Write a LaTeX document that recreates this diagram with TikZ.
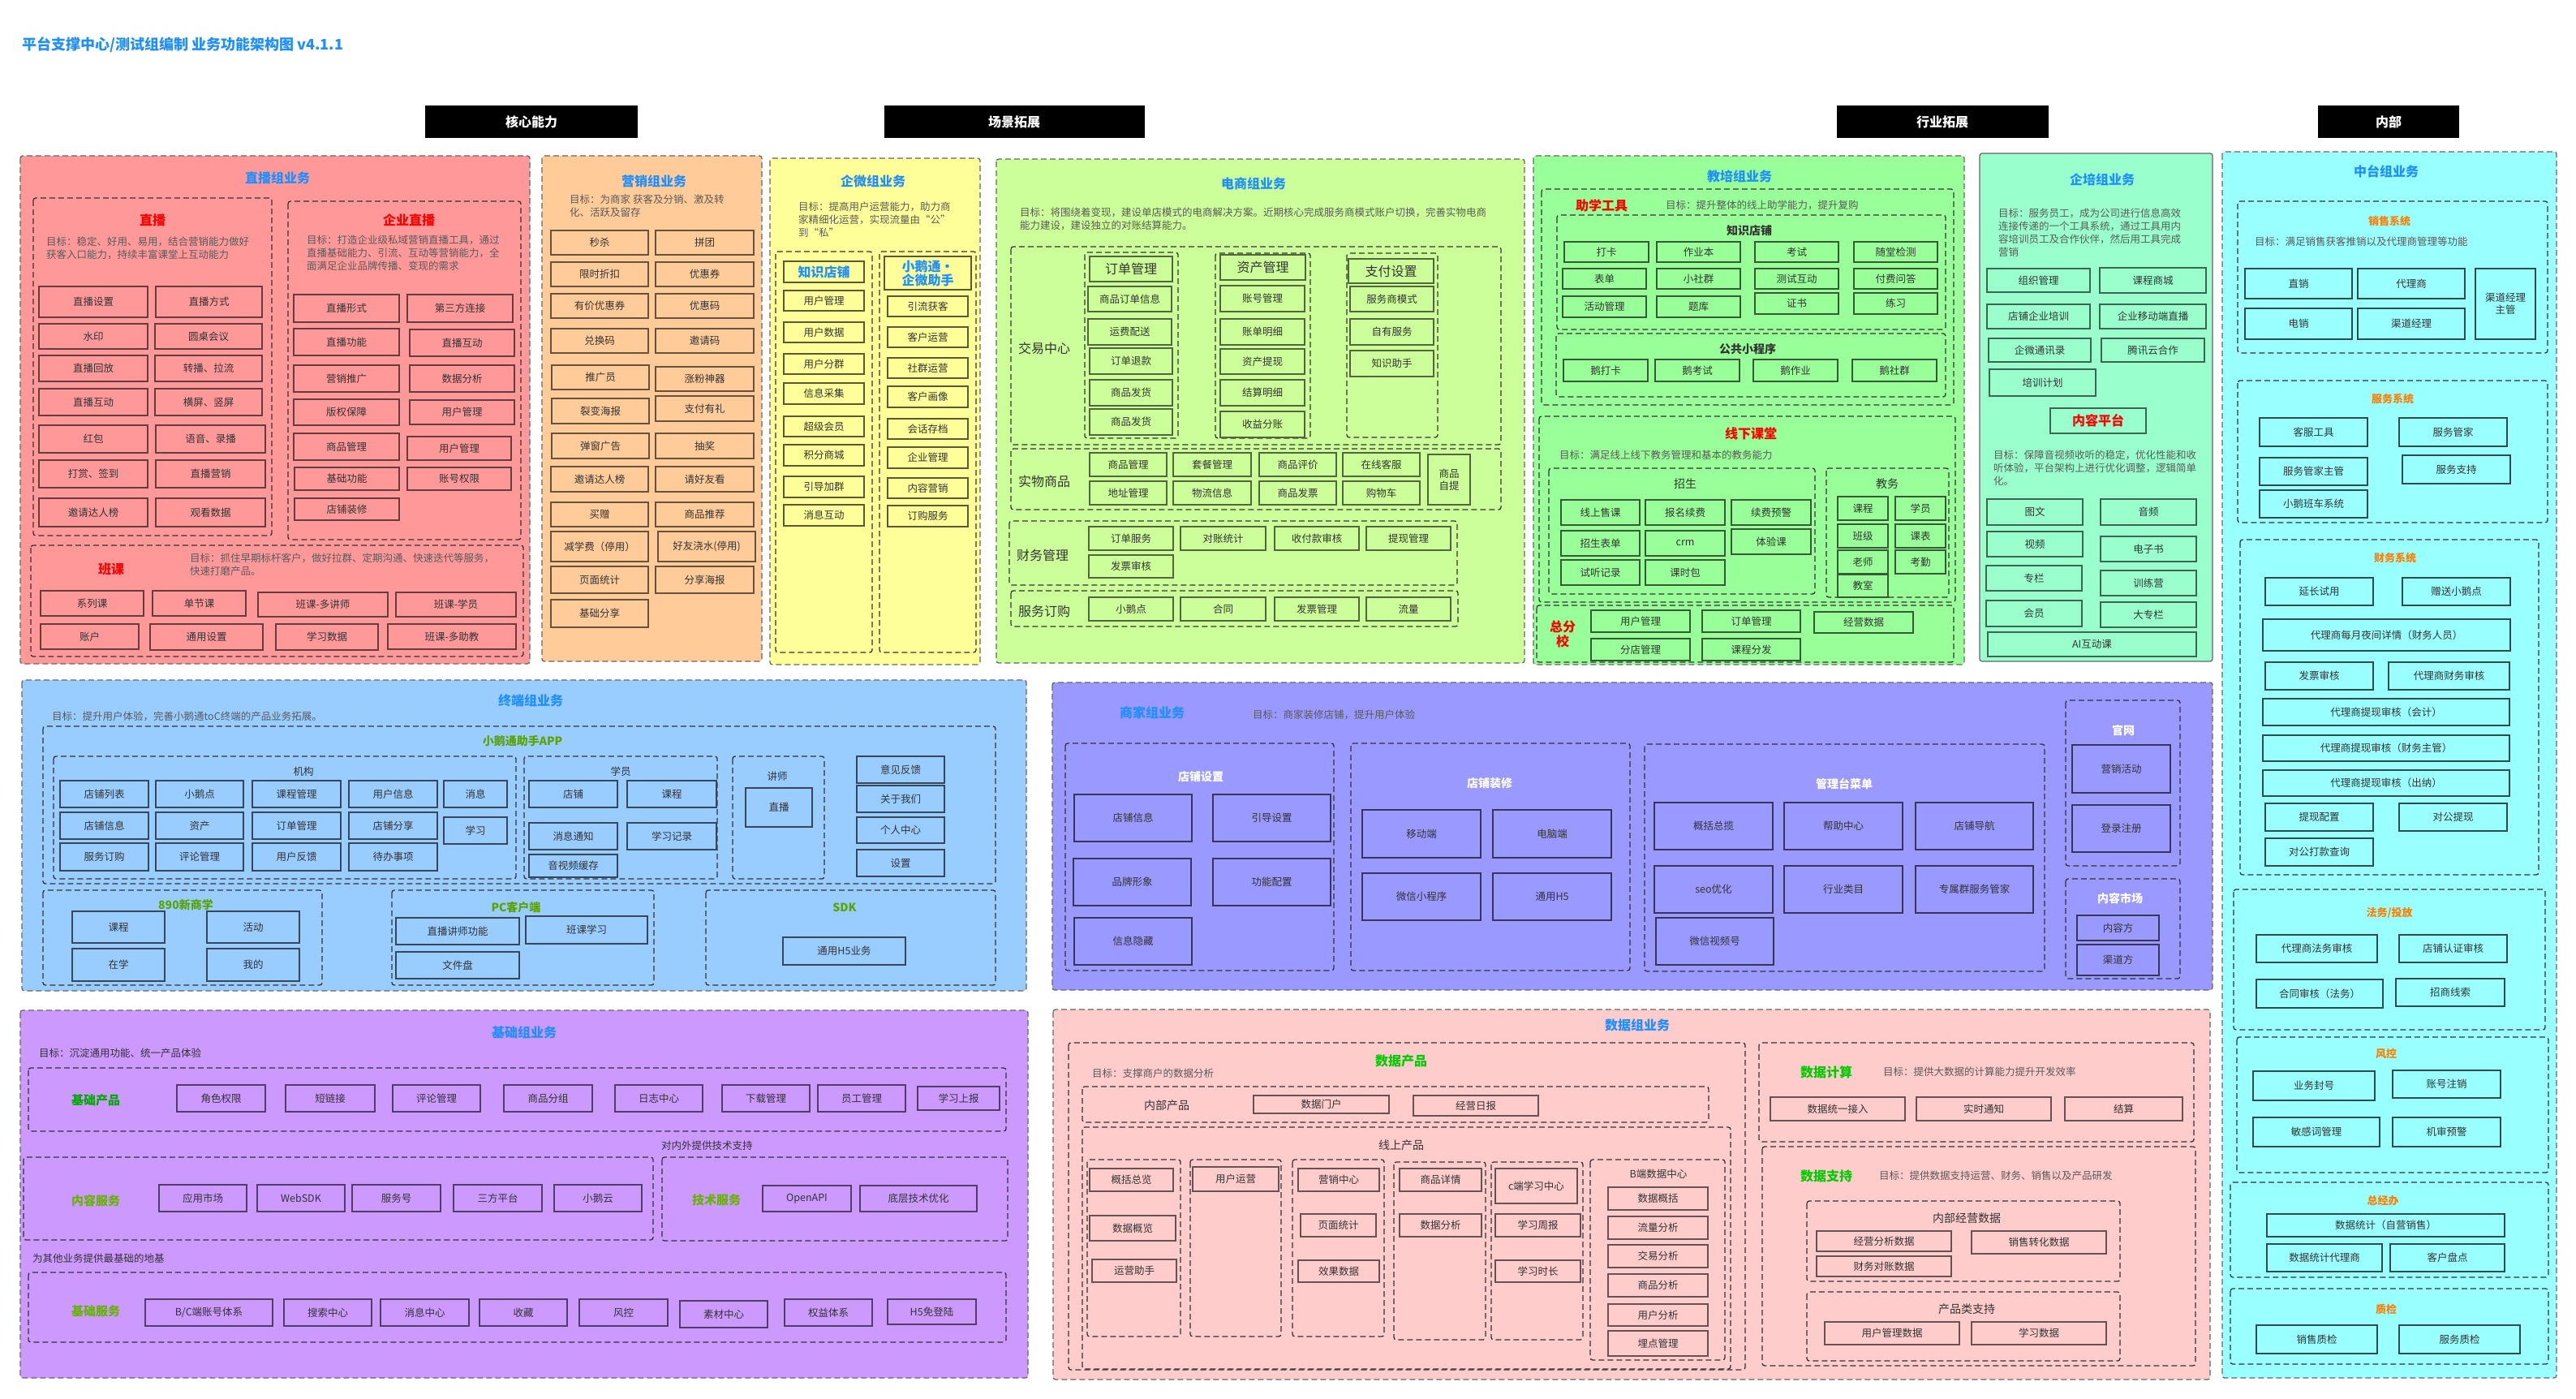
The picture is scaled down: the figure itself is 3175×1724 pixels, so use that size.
\documentclass[tikz,border=0pt]{standalone}
\usepackage{fontspec}
\setmainfont{Noto Sans CJK SC}
\usepackage{xcolor,tikz}

\definecolor{archLiveFill}{HTML}{FF9999}
\definecolor{archMktFill}{HTML}{FFCC99}
\definecolor{archWecomFill}{HTML}{FFFF99}
\definecolor{archShopFill}{HTML}{CCFF99}
\definecolor{archEduFill}{HTML}{99FF99}
\definecolor{archCorpFill}{HTML}{99FFCC}
\definecolor{archMidFill}{HTML}{99FFFF}
\definecolor{archAppFill}{HTML}{99CCFF}
\definecolor{archMerchFill}{HTML}{9999FF}
\definecolor{archBaseFill}{HTML}{CC99FF}
\definecolor{archDataFill}{HTML}{FFCCCC}
\definecolor{archTitleBlue}{HTML}{1F8FFF}
\definecolor{archRed}{HTML}{FF0000}
\definecolor{archOrange}{HTML}{FF8000}
\definecolor{archOlive}{HTML}{5AA300}
\definecolor{archGreen}{HTML}{00A800}
\definecolor{archLime}{HTML}{66B300}
\definecolor{archBright}{HTML}{00CC00}
\definecolor{archText}{HTML}{333333}
\definecolor{archGoal}{HTML}{5A5A5A}
\definecolor{archSecLine}{HTML}{666666}
\definecolor{archGroupLine}{HTML}{333333}
\colorlet{archLiveLine}{black!60!archLiveFill}
\colorlet{archMktLine}{black!60!archMktFill}
\colorlet{archWecomLine}{black!65!archWecomFill}
\colorlet{archShopLine}{black!60!archShopFill}
\colorlet{archEduLine}{black!65!archEduFill}
\colorlet{archCorpLine}{black!60!archCorpFill}
\colorlet{archMidLine}{black!70!archMidFill}
\colorlet{archAppLine}{black!65!archAppFill}
\colorlet{archMerchLine}{black!65!archMerchFill}
\colorlet{archBaseLine}{black!60!archBaseFill}
\colorlet{archDataLine}{black!60!archDataFill}

\tikzset{
  sec frame/.style={
    draw=archSecLine, line width=1.3pt,
    dash pattern=on 7pt off 4pt, rounded corners=3pt,
  },
  grp frame/.style={
    draw=archGroupLine, line width=1.3pt,
    dash pattern=on 7pt off 4pt, rounded corners=3pt,
  },
  fn box/.style={
    rectangle, draw=archGroupLine, line width=1.3pt,
    inner sep=1pt, align=center,
    font=\fontsize{12.5}{15}\selectfont, text=archText,
  },
  sec title/.style={font=\fontsize{16}{19}\selectfont\bfseries, text=archTitleBlue},
  sub title/.style={font=\fontsize{16}{18}\selectfont\bfseries, text=archRed, align=center},
  goal text/.style={
    font=\fontsize{12.5}{16}\selectfont, text=archGoal,
    align=left, anchor=north west, inner sep=0pt,
  },
  goal line/.style={goal text, anchor=west},
  grp label/.style={font=\fontsize{14}{17}\selectfont, text=archText},
  big label/.style={font=\fontsize{16}{19}\selectfont, text=archText},
  head box/.style={font=\fontsize{16}{19}\selectfont},
  wecom head/.style={font=\fontsize{16}{17}\selectfont\bfseries, text=archTitleBlue},
  mid label/.style={font=\fontsize{13}{16}\selectfont\bfseries, text=archOrange},
  app label/.style={font=\fontsize{14}{17}\selectfont\bfseries, text=archOlive},
  head bar/.style={
    fill=black, text=white, inner sep=0pt,
    font=\fontsize{16}{19}\selectfont\bfseries,
  },
}

% box from its two corners (pixel grid, y downwards)
\newcommand{\fnbox}[7][]{%
  \pgfmathsetmacro{\fbX}{(#3+#5)/2}%
  \pgfmathsetmacro{\fbY}{(#4+#6)/2}%
  \pgfmathsetmacro{\fbW}{#5-#3}%
  \pgfmathsetmacro{\fbH}{#6-#4}%
  \node[fn box, minimum width=\fbW pt, minimum height=\fbH pt, #1] (#2) at (\fbX,\fbY) {#7};%
}

\begin{document}
\begin{tikzpicture}[x=1pt, y=-1pt]

\useasboundingbox (0,0) rectangle (3175,1724);
\fill[white] (0,0) rectangle (3175,1724);

% --- TITLE + COLUMN HEADERS ---
\node[anchor=west, font=\fontsize{18}{21}\selectfont\bfseries, text=archTitleBlue] (mainTitle)
  at (24,55) {平台支撑中心/测试组编制 业务功能架构图 v4.1.1};
\node[head bar, minimum width=262pt, minimum height=40pt] (hdCore) at (655,150) {核心能力};
\node[head bar, minimum width=321pt, minimum height=40pt] (hdScene) at (1250,150) {场景拓展};
\node[head bar, minimum width=261pt, minimum height=40pt] (hdTrade) at (2394,150) {行业拓展};
\node[head bar, minimum width=174pt, minimum height=40pt] (hdInner) at (2944,150) {内部};

% --- 直播组业务 ---
\begin{scope}[fn box/.append style={draw=archLiveLine}]
\draw[sec frame, fill=archLiveFill] (25,192) rectangle (653,818);
\node[sec title] (liveT) at (342,219) {直播组业务};
\draw[grp frame] (41,244) rectangle (335,660);
\node[sub title] (liveA) at (188,271) {直播};
\node[goal text] (liveAG) at (57,292) {目标：稳定、好用、易用，结合营销能力做好\\获客入口能力，持续丰富课堂上互动能力};
\fnbox{live1}{48}{353}{182}{391}{直播设置}
\fnbox{live2}{192}{353}{323}{391}{直播方式}
\fnbox{live3}{48}{399}{182}{430}{水印}
\fnbox{live4}{191}{399}{323}{430}{圆桌会议}
\fnbox{live5}{48}{438}{182}{470}{直播回放}
\fnbox{live6}{191}{438}{323}{470}{转播、拉流}
\fnbox{live7}{48}{479}{182}{512}{直播互动}
\fnbox{live8}{191}{479}{323}{512}{横屏、竖屏}
\fnbox{live9}{48}{524}{182}{558}{红包}
\fnbox{live10}{192}{524}{327}{558}{语音、录播}
\fnbox{live11}{48}{567}{182}{601}{打赏、签到}
\fnbox{live12}{192}{567}{327}{601}{直播营销}
\fnbox{live13}{48}{614}{182}{649}{邀请达人榜}
\fnbox{live14}{192}{614}{327}{649}{观看数据}
\draw[grp frame] (355,248) rectangle (642,665);
\node[sub title] (liveB) at (504,271) {企业直播};
\node[goal text] (liveBG) at (378,290) {目标：打造企业级私域营销直播工具，通过\\直播基础能力、引流、互动等营销能力，全\\面满足企业品牌传播、变现的需求};
\fnbox{ent1}{362}{363}{492}{397}{直播形式}
\fnbox{ent2}{502}{363}{632}{397}{第三方连接}
\fnbox{ent3}{362}{405}{492}{438}{直播功能}
\fnbox{ent4}{505}{406}{634}{439}{直播互动}
\fnbox{ent5}{362}{450}{492}{483}{营销推广}
\fnbox{ent6}{505}{450}{634}{483}{数据分析}
\fnbox{ent7}{362}{492}{492}{524}{版权保障}
\fnbox{ent8}{505}{493}{634}{523}{用户管理}
\fnbox{ent9}{362}{534}{492}{567}{商品管理}
\fnbox{ent10}{502}{538}{630}{567}{用户管理}
\fnbox{ent11}{363}{576}{492}{604}{基础功能}
\fnbox{ent12}{502}{576}{630}{604}{账号权限}
\fnbox{ent13}{363}{614}{492}{641}{店铺装修}
\draw[grp frame] (38,672) rectangle (645,809);
\node[sub title] (liveC) at (137,701) {班课};
\node[goal text] (liveCG) at (234,682) {目标：抓住早期标杆客户，做好拉群、定期沟通、快速迭代等服务，\\快速打磨产品。};
\fnbox{cls1}{50}{728}{177}{759}{系列课}
\fnbox{cls2}{188}{728}{303}{759}{单节课}
\fnbox{cls3}{318}{730}{478}{760}{班课-多讲师}
\fnbox{cls4}{488}{730}{636}{760}{班课-学员}
\fnbox{cls5}{50}{769}{171}{800}{账户}
\fnbox{cls6}{185}{769}{324}{801}{通用设置}
\fnbox{cls7}{340}{769}{466}{801}{学习数据}
\fnbox{cls8}{478}{769}{636}{800}{班课-多助教}
\end{scope}

% --- 营销组业务 ---
\begin{scope}[fn box/.append style={draw=archMktLine}]
\draw[sec frame, fill=archMktFill] (668,192) rectangle (939,815);
\node[sec title] (mktT) at (806,223) {营销组业务};
\node[goal text] (mktG) at (702,240) {目标：为商家 获客及分销、激及转\\化、活跃及留存};
\fnbox{mkt1}{679}{284}{799}{314}{秒杀}
\fnbox{mkt2}{808}{284}{929}{314}{拼团}
\fnbox{mkt3}{679}{323}{799}{353}{限时折扣}
\fnbox{mkt4}{808}{323}{929}{353}{优惠券}
\fnbox{mkt5}{679}{362}{799}{392}{有价优惠券}
\fnbox{mkt6}{808}{362}{929}{392}{优惠码}
\fnbox{mkt7}{679}{405}{799}{435}{兑换码}
\fnbox{mkt8}{808}{405}{929}{435}{邀请码}
\fnbox{mkt9}{680}{450}{800}{480}{推广员}
\fnbox{mkt10}{808}{452}{929}{482}{涨粉神器}
\fnbox{mkt11}{680}{491}{800}{522}{裂变海报}
\fnbox{mkt12}{808}{488}{929}{519}{支付有礼}
\fnbox{mkt13}{680}{534}{800}{565}{弹窗广告}
\fnbox{mkt14}{808}{534}{929}{565}{抽奖}
\fnbox{mkt15}{679}{575}{799}{606}{邀请达人榜}
\fnbox{mkt16}{808}{575}{929}{606}{请好友看}
\fnbox{mkt17}{679}{619}{799}{649}{买赠}
\fnbox{mkt18}{808}{619}{929}{649}{商品推荐}
\fnbox{mkt19}{679}{655}{799}{692}{减学费（停用）}
\fnbox{mkt20}{811}{655}{931}{692}{好友浇水(停用)}
\fnbox{mkt21}{679}{698}{799}{731}{页面统计}
\fnbox{mkt22}{808}{698}{929}{731}{分享海报}
\fnbox{mkt23}{679}{739}{799}{773}{基础分享}
\end{scope}

% --- 企微组业务 ---
\begin{scope}[fn box/.append style={draw=archWecomLine}]
\draw[sec frame, fill=archWecomFill] (949,195) rectangle (1208,819);
\node[sec title] (wcT) at (1076,223) {企微组业务};
\node[goal text] (wcG) at (984,249) {目标：提高用户运营能力，助力商\\家精细化运营，实现流量由“公”\\到“私”};
\draw[grp frame] (956,310) rectangle (1075,804);
\fnbox[wecom head]{wcA0}{966}{322}{1065}{348}{知识店铺}
\fnbox{wcA1}{966}{358}{1065}{383}{用户管理}
\fnbox{wcA2}{966}{397}{1065}{422}{用户数据}
\fnbox{wcA3}{966}{436}{1065}{461}{用户分群}
\fnbox{wcA4}{966}{472}{1065}{498}{信息采集}
\fnbox{wcA5}{966}{513}{1065}{538}{超级会员}
\fnbox{wcA6}{966}{548}{1065}{574}{积分商城}
\fnbox{wcA7}{966}{587}{1065}{613}{引导加群}
\fnbox{wcA8}{966}{622}{1065}{648}{消息互动}
\draw[grp frame] (1084,310) rectangle (1203,804);
\fnbox[wecom head]{wcB0}{1090}{316}{1197}{357}{小鹅通•\\企微助手}
\fnbox{wcB1}{1094}{365}{1193}{390}{引流获客}
\fnbox{wcB2}{1094}{403}{1193}{428}{客户运营}
\fnbox{wcB3}{1094}{441}{1193}{466}{社群运营}
\fnbox{wcB4}{1094}{476}{1193}{502}{客户画像}
\fnbox{wcB5}{1094}{516}{1193}{541}{会话存档}
\fnbox{wcB6}{1094}{551}{1193}{577}{企业管理}
\fnbox{wcB7}{1094}{589}{1193}{614}{内容营销}
\fnbox{wcB8}{1094}{623}{1193}{649}{订购服务}
\end{scope}

% --- 电商组业务 ---
\begin{scope}[fn box/.append style={draw=archShopLine}]
\draw[sec frame, fill=archShopFill] (1228,196) rectangle (1879,817);
\node[sec title] (shopT) at (1545,226) {电商组业务};
\node[goal text] (shopG) at (1257,256) {目标：将围绕着变现，建设单店模式的电商解决方案。近期核心完成服务商模式账户切换，完善实物电商\\能力建设，建设独立的对账结算能力。};
\draw[grp frame] (1246,304) rectangle (1850,548);
\node[big label] (shopTrade) at (1287,429) {交易中心};
\draw[grp frame] (1337,311) rectangle (1452,540);
\fnbox[head box]{ord0}{1343}{316}{1445}{347}{订单管理}
\fnbox{ord1}{1341}{353}{1444}{384}{商品订单信息}
\fnbox{ord2}{1341}{393}{1444}{425}{运费配送}
\fnbox{ord3}{1343}{429}{1445}{461}{订单退款}
\fnbox{ord4}{1343}{468}{1445}{500}{商品发货}
\fnbox{ord5}{1343}{504}{1445}{536}{商品发货}
\draw[grp frame] (1498,312) rectangle (1615,540);
\fnbox[head box]{ast0}{1504}{314}{1609}{345}{资产管理}
\fnbox{ast1}{1504}{352}{1608}{384}{账号管理}
\fnbox{ast2}{1504}{393}{1608}{425}{账单明细}
\fnbox{ast3}{1504}{430}{1608}{461}{资产提现}
\fnbox{ast4}{1504}{468}{1608}{500}{结算明细}
\fnbox{ast5}{1504}{507}{1608}{539}{收益分账}
\draw[grp frame] (1660,312) rectangle (1772,539);
\fnbox[head box]{pay0}{1662}{319}{1767}{349}{支付设置}
\fnbox{pay1}{1664}{353}{1767}{384}{服务商模式}
\fnbox{pay2}{1664}{393}{1767}{425}{自有服务}
\fnbox{pay3}{1664}{432}{1767}{464}{知识助手}
\draw[grp frame] (1246,553) rectangle (1850,628);
\node[big label] (shopGoods) at (1287,593) {实物商品};
\fnbox{phy1}{1343}{558}{1438}{587}{商品管理}
\fnbox{phy2}{1446}{558}{1542}{587}{套餐管理}
\fnbox{phy3}{1552}{558}{1647}{587}{商品评价}
\fnbox{phy4}{1655}{558}{1750}{587}{在线客服}
\fnbox{phy5}{1343}{593}{1438}{622}{地址管理}
\fnbox{phy6}{1446}{593}{1542}{622}{物流信息}
\fnbox{phy7}{1552}{593}{1647}{622}{商品发票}
\fnbox{phy8}{1655}{593}{1750}{622}{购物车}
\fnbox{phy9}{1760}{560}{1812}{622}{商品\\自提}
\draw[grp frame] (1244,642) rectangle (1796,721);
\node[big label] (shopFin) at (1285,684) {财务管理};
\fnbox{fin1}{1342}{649}{1446}{678}{订单服务}
\fnbox{fin2}{1455}{649}{1560}{678}{对账统计}
\fnbox{fin3}{1571}{649}{1675}{678}{收付款审核}
\fnbox{fin4}{1684}{649}{1788}{678}{提现管理}
\fnbox{fin5}{1342}{684}{1446}{712}{发票审核}
\draw[grp frame] (1246,728) rectangle (1797,772);
\node[big label] (shopSvc) at (1287,753) {服务订购};
\fnbox{svc1}{1342}{736}{1446}{765}{小鹅点}
\fnbox{svc2}{1455}{736}{1560}{765}{合同}
\fnbox{svc3}{1571}{736}{1675}{765}{发票管理}
\fnbox{svc4}{1684}{736}{1788}{765}{流量}
\end{scope}

% --- 教培组业务 ---
\begin{scope}[fn box/.append style={draw=archEduLine}]
\draw[sec frame, fill=archEduFill] (1890,192) rectangle (2421,819);
\node[sec title] (eduT) at (2144,217) {教培组业务};
\draw[grp frame] (1900,233) rectangle (2408,499);
\node[sub title] (eduA) at (1974,253) {助学工具};
\node[goal line] (eduAG) at (2053,253) {目标：提升整体的线上助学能力，提升复购};
\draw[grp frame] (1919,265) rectangle (2398,406);
\node[grp label, font=\fontsize{14}{17}\selectfont\bfseries] (eduShop) at (2156,284) {知识店铺};
\fnbox{edu1}{1928}{298}{2032}{323}{打卡}
\fnbox{edu2}{2042}{298}{2145}{323}{作业本}
\fnbox{edu3}{2163}{298}{2266}{323}{考试}
\fnbox{edu4}{2285}{298}{2388}{323}{随堂检测}
\fnbox{edu5}{1926}{331}{2029}{356}{表单}
\fnbox{edu6}{2042}{331}{2145}{356}{小社群}
\fnbox{edu7}{2163}{331}{2266}{356}{测试互动}
\fnbox{edu8}{2285}{331}{2388}{356}{付费问答}
\fnbox{edu9}{1926}{365}{2029}{391}{活动管理}
\fnbox{edu10}{2042}{365}{2145}{391}{题库}
\fnbox{edu11}{2163}{361}{2266}{387}{证书}
\fnbox{edu12}{2285}{361}{2388}{387}{练习}
\draw[grp frame] (1918,411) rectangle (2398,489);
\node[grp label, font=\fontsize{14}{17}\selectfont\bfseries] (eduMini) at (2154,430) {公共小程序};
\fnbox{edu13}{1927}{443}{2031}{470}{鹅打卡}
\fnbox{edu14}{2040}{443}{2144}{470}{鹅考试}
\fnbox{edu15}{2161}{443}{2265}{470}{鹅作业}
\fnbox{edu16}{2283}{443}{2387}{470}{鹅社群}
\draw[grp frame] (1897,513) rectangle (2410,742);
\node[sub title] (eduB) at (2158,534) {线下课堂};
\node[goal line] (eduBG) at (1922,561) {目标：满足线上线下教务管理和基本的教务能力};
\draw[grp frame] (1909,577) rectangle (2237,732);
\node[grp label] (eduRec) at (2077,596) {招生};
\fnbox{off1}{1924}{616}{2021}{647}{线上售课}
\fnbox{off2}{2028}{616}{2126}{647}{报名续费}
\fnbox{off3}{2134}{616}{2232}{647}{续费预警}
\fnbox{off4}{1924}{654}{2021}{685}{招生表单}
\fnbox{off5}{2028}{654}{2126}{685}{crm}
\fnbox{off6}{2134}{652}{2232}{683}{体验课}
\fnbox{off7}{1924}{690}{2021}{721}{试听记录}
\fnbox{off8}{2028}{690}{2126}{721}{课时包}
\draw[grp frame] (2251,577) rectangle (2402,736);
\node[grp label] (eduAff) at (2326,596) {教务};
\fnbox{aff1}{2265}{612}{2327}{641}{课程}
\fnbox{aff2}{2336}{612}{2398}{641}{学员}
\fnbox{aff3}{2265}{646}{2327}{675}{班级}
\fnbox{aff4}{2336}{646}{2398}{675}{课表}
\fnbox{aff5}{2265}{678}{2327}{707}{老师}
\fnbox{aff6}{2336}{678}{2398}{707}{考勤}
\fnbox{aff7}{2265}{708}{2327}{736}{教室}
\draw[grp frame] (1894,746) rectangle (2408,816);
\node[sub title] (eduC) at (1926,781) {总分\\校};
\fnbox{br1}{1961}{752}{2083}{779}{用户管理}
\fnbox{br2}{2098}{752}{2219}{779}{订单管理}
\fnbox{br3}{2236}{754}{2358}{780}{经营数据}
\fnbox{br4}{1961}{787}{2083}{814}{分店管理}
\fnbox{br5}{2098}{787}{2219}{814}{课程分发}
\end{scope}

% --- 企培组业务 ---
\begin{scope}[fn box/.append style={draw=archCorpLine}]
\draw[draw=archSecLine, line width=1.3pt, rounded corners=3pt, fill=archCorpFill] (2440,189) rectangle (2727,815);
\node[sec title] (cpT) at (2591,221) {企培组业务};
\node[goal text] (cpG) at (2463,257) {目标：服务员工，成为公司进行信息高效\\连接传递的一个工具系统，通过工具用内\\容培训员工及合作伙伴，然后用工具完成\\营销};
\fnbox{cp1}{2449}{331}{2576}{360}{组织管理}
\fnbox{cp2}{2588}{330}{2719}{361}{课程商城}
\fnbox{cp3}{2449}{375}{2576}{405}{店铺企业培训}
\fnbox{cp4}{2588}{375}{2719}{405}{企业移动端直播}
\fnbox{cp5}{2451}{417}{2577}{446}{企微通讯录}
\fnbox{cp6}{2590}{417}{2717}{446}{腾讯云合作}
\fnbox{cp7}{2452}{455}{2583}{488}{培训计划}
\fnbox[font=\fontsize{16}{19}\selectfont\bfseries, text=archRed]{cp8}{2527}{503}{2645}{534}{内容平台}
\node[goal text] (cpG2) at (2457,555) {目标：保障音视频收听的稳定，优化性能和收\\听体验，平台架构上进行优化调整，逻辑简单\\化。};
\fnbox{cp9}{2449}{615}{2567}{647}{图文}
\fnbox{cp10}{2589}{615}{2707}{647}{音频}
\fnbox{cp11}{2449}{655}{2567}{686}{视频}
\fnbox{cp12}{2589}{661}{2707}{692}{电子书}
\fnbox{cp13}{2448}{697}{2566}{728}{专栏}
\fnbox{cp14}{2589}{703}{2707}{734}{训练营}
\fnbox{cp15}{2448}{740}{2566}{772}{会员}
\fnbox{cp16}{2589}{742}{2707}{773}{大专栏}
\fnbox{cp17}{2450}{779}{2707}{809}{AI互动课}
\end{scope}

% --- 中台组业务 ---
\begin{scope}[fn box/.append style={draw=archMidLine}]
\draw[sec frame, fill=archMidFill] (2739,187) rectangle (3151,1698);
\node[sec title] (midT) at (2941,211) {中台组业务};
\draw[grp frame] (2758,248) rectangle (3140,435);
\node[mid label] (midSale) at (2945,273) {销售系统};
\node[goal text] (midSaleG) at (2779,292) {目标：满足销售获客推销以及代理商管理等功能};
\fnbox{md1}{2767}{331}{2899}{368}{直销}
\fnbox{md2}{2906}{331}{3038}{368}{代理商}
\fnbox{md3}{2767}{380}{2899}{418}{电销}
\fnbox{md4}{2906}{380}{3038}{418}{渠道经理}
\fnbox{md5}{3051}{331}{3125}{418}{渠道经理\\主管}
\draw[grp frame] (2758,469) rectangle (3140,644);
\node[mid label] (midSvc) at (2949,492) {服务系统};
\fnbox{md6}{2785}{515}{2918}{550}{客服工具}
\fnbox{md7}{2957}{515}{3090}{550}{服务管家}
\fnbox{md8}{2785}{564}{2918}{598}{服务管家主管}
\fnbox{md9}{2961}{561}{3094}{596}{服务支持}
\fnbox{md10}{2785}{604}{2918}{638}{小鹅班车系统}
\draw[grp frame] (2761,665) rectangle (3129,1078);
\node[mid label] (midFin) at (2952,688) {财务系统};
\fnbox{md11}{2792}{712}{2925}{746}{延长试用}
\fnbox{md12}{2961}{712}{3094}{746}{赠送小鹅点}
\fnbox{md13}{2789}{763}{3094}{802}{代理商每月夜间详情（财务人员）}
\fnbox{md14}{2792}{816}{2925}{850}{发票审核}
\fnbox{md15}{2944}{816}{3093}{850}{代理商财务审核}
\fnbox{md16}{2789}{861}{3093}{894}{代理商提现审核（会计）}
\fnbox{md17}{2789}{906}{3093}{938}{代理商提现审核（财务主管）}
\fnbox{md18}{2789}{949}{3093}{981}{代理商提现审核（出纳）}
\fnbox{md19}{2792}{990}{2925}{1024}{提现配置}
\fnbox{md20}{2957}{990}{3090}{1024}{对公提现}
\fnbox{md21}{2792}{1033}{2925}{1067}{对公打款查询}
\draw[grp frame] (2753,1096) rectangle (3137,1269);
\node[mid label] (midLaw) at (2945,1125) {法务/投放};
\fnbox{md22}{2781}{1152}{2930}{1186}{代理商法务审核}
\fnbox{md23}{2957}{1152}{3090}{1186}{店铺认证审核}
\fnbox{md24}{2781}{1207}{2937}{1242}{合同审核（法务）}
\fnbox{md25}{2953}{1206}{3087}{1240}{招商线索}
\draw[grp frame] (2757,1278) rectangle (3141,1445);
\node[mid label] (midRisk) at (2941,1299) {风控};
\fnbox{md26}{2777}{1320}{2927}{1356}{业务封号}
\fnbox{md27}{2949}{1319}{3082}{1353}{账号注销}
\fnbox{md28}{2777}{1377}{2933}{1413}{敏感词管理}
\fnbox{md29}{2949}{1377}{3082}{1413}{机审预警}
\draw[grp frame] (2749,1457) rectangle (3141,1574);
\node[mid label] (midCeo) at (2937,1480) {总经办};
\fnbox{md30}{2794}{1496}{3087}{1524}{数据统计（自营销售）}
\fnbox{md31}{2794}{1533}{2936}{1567}{数据统计代理商}
\fnbox{md32}{2946}{1533}{3087}{1567}{客户盘点}
\draw[grp frame] (2749,1588) rectangle (3141,1681);
\node[mid label] (midQa) at (2941,1613) {质检};
\fnbox{md33}{2781}{1633}{2930}{1668}{销售质检}
\fnbox{md34}{2957}{1633}{3106}{1668}{服务质检}
\end{scope}

% --- 终端组业务 ---
\begin{scope}[fn box/.append style={draw=archAppLine}]
\draw[sec frame, fill=archAppFill] (27,838) rectangle (1265,1221);
\node[sec title] (appT) at (654,863) {终端组业务};
\node[goal line] (appG) at (64,883) {目标：提升用户体验，完善小鹅通toC终端的产品业务拓展。};
\draw[grp frame] (53,895) rectangle (1227,1089);
\node[app label] (appMain) at (644,913) {小鹅通助手APP};
\draw[grp frame] (66,932) rectangle (636,1083);
\node[grp label, font=\fontsize{12.5}{15}\selectfont] (appOrg) at (374,951) {机构};
\fnbox{app1}{74}{962}{183}{995}{店铺列表}
\fnbox{app2}{192}{962}{300}{995}{小鹅点}
\fnbox{app3}{311}{962}{420}{995}{课程管理}
\fnbox{app4}{430}{962}{539}{995}{用户信息}
\fnbox{app5}{547}{962}{625}{995}{消息}
\fnbox{app6}{74}{1001}{183}{1034}{店铺信息}
\fnbox{app7}{192}{1001}{300}{1034}{资产}
\fnbox{app8}{311}{1001}{420}{1034}{订单管理}
\fnbox{app9}{430}{1001}{539}{1034}{店铺分享}
\fnbox{app10}{547}{1007}{625}{1040}{学习}
\fnbox{app11}{74}{1039}{183}{1073}{服务订购}
\fnbox{app12}{192}{1039}{300}{1073}{评论管理}
\fnbox{app13}{311}{1039}{420}{1073}{用户反馈}
\fnbox{app14}{430}{1039}{539}{1073}{待办事项}
\draw[grp frame] (646,932) rectangle (884,1083);
\node[grp label, font=\fontsize{12.5}{15}\selectfont] (appStu) at (765,951) {学员};
\fnbox{app15}{652}{962}{761}{995}{店铺}
\fnbox{app16}{773}{962}{883}{995}{课程}
\fnbox{app17}{652}{1014}{761}{1047}{消息通知}
\fnbox{app18}{773}{1014}{883}{1047}{学习记录}
\fnbox{app19}{652}{1053}{761}{1081}{音视频缓存}
\draw[grp frame] (903,932) rectangle (1016,1083);
\node[grp label, font=\fontsize{12.5}{15}\selectfont] (appTch) at (958,957) {讲师};
\fnbox{app20}{919}{971}{1001}{1019}{直播}
\fnbox{app21}{1056}{932}{1164}{965}{意见反馈}
\fnbox{app22}{1056}{968}{1164}{1001}{关于我们}
\fnbox{app23}{1056}{1007}{1164}{1039}{个人中心}
\fnbox{app24}{1056}{1047}{1164}{1080}{设置}
\draw[grp frame] (53,1097) rectangle (397,1214);
\node[app label] (appBiz) at (229,1115) {890新商学};
\fnbox{app25}{89}{1123}{203}{1162}{课程}
\fnbox{app26}{255}{1123}{369}{1162}{活动}
\fnbox{app27}{89}{1169}{203}{1209}{在学}
\fnbox{app28}{255}{1169}{369}{1209}{我的}
\draw[grp frame] (483,1097) rectangle (806,1214);
\node[app label] (appPc) at (636,1118) {PC客户端};
\fnbox{app29}{488}{1131}{640}{1164}{直播讲师功能}
\fnbox{app30}{648}{1129}{798}{1163}{班课学习}
\fnbox{app31}{488}{1173}{640}{1206}{文件盘}
\draw[grp frame] (870,1097) rectangle (1227,1214);
\node[app label] (appSdk) at (1041,1118) {SDK};
\fnbox{app32}{965}{1155}{1116}{1189}{通用H5业务}
\end{scope}

% --- 商家组业务 ---
\begin{scope}[fn box/.append style={draw=archMerchLine}, grp label/.append style={text=white, font=\fontsize{14}{17}\selectfont\bfseries}]
\draw[sec frame, fill=archMerchFill] (1297,841) rectangle (2727,1220);
\node[sec title] (mcT) at (1420,878) {商家组业务};
\node[goal line] (mcG) at (1544,881) {目标：商家装修店铺，提升用户体验};
\draw[grp frame] (1313,916) rectangle (1644,1196);
\node[grp label] (mcSet) at (1480,957) {店铺设置};
\fnbox{mc1}{1324}{979}{1469}{1037}{店铺信息}
\fnbox{mc2}{1495}{979}{1640}{1037}{引导设置}
\fnbox{mc3}{1323}{1058}{1468}{1116}{品牌形象}
\fnbox{mc4}{1495}{1058}{1640}{1116}{功能配置}
\fnbox{mc5}{1324}{1131}{1469}{1189}{信息隐藏}
\draw[grp frame] (1665,916) rectangle (2009,1196);
\node[grp label] (mcDeco) at (1836,965) {店铺装修};
\fnbox{mc6}{1679}{998}{1825}{1057}{移动端}
\fnbox{mc7}{1840}{998}{1986}{1057}{电脑端}
\fnbox{mc8}{1679}{1076}{1825}{1134}{微信小程序}
\fnbox{mc9}{1840}{1076}{1986}{1134}{通用H5}
\draw[grp frame] (2027,917) rectangle (2520,1197);
\node[grp label] (mcMenu) at (2273,966) {管理台菜单};
\fnbox{mc10}{2039}{989}{2185}{1047}{概括总揽}
\fnbox{mc11}{2199}{989}{2345}{1047}{帮助中心}
\fnbox{mc12}{2361}{989}{2506}{1047}{店铺导航}
\fnbox{mc13}{2039}{1067}{2185}{1125}{seo优化}
\fnbox{mc14}{2199}{1067}{2345}{1125}{行业类目}
\fnbox{mc15}{2361}{1067}{2506}{1125}{专属群服务管家}
\fnbox{mc16}{2041}{1131}{2186}{1189}{微信视频号}
\draw[grp frame] (2546,863) rectangle (2687,1067);
\node[grp label] (mcWeb) at (2617,900) {官网};
\fnbox{mc17}{2554}{918}{2675}{977}{营销活动}
\fnbox{mc18}{2554}{992}{2675}{1050}{登录注册}
\draw[grp frame] (2546,1083) rectangle (2687,1206);
\node[grp label] (mcMkt) at (2613,1107) {内容市场};
\fnbox{mc19}{2560}{1128}{2661}{1159}{内容方}
\fnbox{mc20}{2560}{1164}{2661}{1202}{渠道方}
\end{scope}

% --- 基础组业务 ---
\begin{scope}[fn box/.append style={draw=archBaseLine}]
\draw[sec frame, fill=archBaseFill] (25,1245) rectangle (1267,1698);
\node[sec title] (bsT) at (646,1272) {基础组业务};
\node[goal line, text=archText] (bsG) at (48,1298) {目标：沉淀通用功能、统一产品体验};
\draw[grp frame] (35,1316) rectangle (1240,1394);
\node[app label, font=\fontsize{15}{18}\selectfont\bfseries, text=archGreen] (bsProd) at (118,1356) {基础产品};
\fnbox{bs1}{218}{1337}{327}{1370}{角色权限}
\fnbox{bs2}{352}{1337}{462}{1370}{短链接}
\fnbox{bs3}{484}{1337}{592}{1370}{评论管理}
\fnbox{bs4}{621}{1337}{730}{1370}{商品分组}
\fnbox{bs5}{758}{1337}{866}{1370}{日志中心}
\fnbox{bs6}{890}{1337}{998}{1370}{下载管理}
\fnbox{bs7}{1008}{1337}{1116}{1370}{员工管理}
\fnbox{bs8}{1131}{1339}{1232}{1368}{学习上报}
\node[goal line, text=archText] (bsTechNote) at (815,1412) {对内外提供技术支持};
\draw[grp frame] (29,1426) rectangle (805,1528);
\node[app label, font=\fontsize{15}{18}\selectfont\bfseries, text=archLime] (bsCont) at (118,1480) {内容服务};
\fnbox{bs9}{196}{1460}{304}{1493}{应用市场}
\fnbox{bs10}{317}{1460}{425}{1493}{WebSDK}
\fnbox{bs11}{434}{1460}{543}{1493}{服务号}
\fnbox{bs12}{559}{1460}{668}{1493}{三方平台}
\fnbox{bs13}{683}{1460}{791}{1493}{小鹅云}
\draw[grp frame] (816,1426) rectangle (1242,1529);
\node[app label, font=\fontsize{15}{18}\selectfont\bfseries, text=archLime] (bsTech) at (883,1479) {技术服务};
\fnbox{bs14}{940}{1461}{1049}{1493}{OpenAPI}
\fnbox{bs15}{1060}{1461}{1204}{1493}{底层技术优化}
\node[goal line, text=archText] (bsBaseNote) at (40,1551) {为其他业务提供最基础的地基};
\draw[grp frame] (35,1568) rectangle (1240,1654);
\node[app label, font=\fontsize{15}{18}\selectfont\bfseries, text=archLime] (bsSvc) at (118,1616) {基础服务};
\fnbox{bs16}{179}{1601}{336}{1634}{B/C端账号体系}
\fnbox{bs17}{350}{1601}{458}{1634}{搜索中心}
\fnbox{bs18}{469}{1601}{578}{1634}{消息中心}
\fnbox{bs19}{591}{1601}{699}{1634}{收藏}
\fnbox{bs20}{714}{1601}{823}{1634}{风控}
\fnbox{bs21}{838}{1603}{946}{1636}{素材中心}
\fnbox{bs22}{967}{1601}{1075}{1634}{权益体系}
\fnbox{bs23}{1094}{1601}{1203}{1632}{H5免登陆}
\end{scope}

% --- 数据组业务 ---
\begin{scope}[fn box/.append style={draw=archDataLine}]
\draw[sec frame, fill=archDataFill] (1298,1244) rectangle (2724,1700);
\node[sec title] (dtT) at (2018,1263) {数据组业务};
\draw[grp frame] (1317,1285) rectangle (2151,1688);
\node[sub title, text=archBright] (dtProd) at (1727,1307) {数据产品};
\node[goal line] (dtProdG) at (1346,1323) {目标：支撑商户的数据分析};
\draw[grp frame] (1334,1339) rectangle (2106,1383);
\node[grp label] (dtInner) at (1438,1362) {内部产品};
\fnbox{dt1}{1545}{1350}{1712}{1372}{数据门户}
\fnbox{dt2}{1742}{1350}{1896}{1375}{经营日报}
\draw[grp frame] (1334,1389) rectangle (2133,1687);
\node[grp label] (dtOnline) at (1727,1411) {线上产品};
\draw[grp frame] (1340,1429) rectangle (1455,1647);
\fnbox{dt3}{1343}{1440}{1446}{1468}{概括总览}
\fnbox{dt4}{1343}{1498}{1449}{1529}{数据概览}
\fnbox{dt5}{1346}{1552}{1450}{1580}{运营助手}
\draw[grp frame] (1467,1429) rectangle (1579,1647);
\fnbox{dt6}{1470}{1438}{1576}{1468}{用户运营}
\draw[grp frame] (1593,1429) rectangle (1706,1647);
\fnbox{dt7}{1600}{1440}{1700}{1468}{营销中心}
\fnbox{dt8}{1603}{1496}{1696}{1524}{页面统计}
\fnbox{dt9}{1600}{1553}{1700}{1580}{效果数据}
\draw[grp frame] (1718,1432) rectangle (1831,1651);
\fnbox{dt10}{1725}{1440}{1826}{1468}{商品详情}
\fnbox{dt11}{1725}{1496}{1826}{1524}{数据分析}
\draw[grp frame] (1838,1432) rectangle (1951,1651);
\fnbox{dt12}{1843}{1440}{1944}{1483}{c端学习中心}
\fnbox{dt13}{1843}{1496}{1948}{1524}{学习周报}
\fnbox{dt14}{1843}{1553}{1948}{1580}{学习时长}
\draw[grp frame] (1960,1429) rectangle (2126,1676);
\node[grp label, font=\fontsize{12.5}{15}\selectfont] (dtB) at (2044,1447) {B端数据中心};
\fnbox{dt15}{1982}{1463}{2105}{1491}{数据概括}
\fnbox{dt16}{1982}{1499}{2105}{1527}{流量分析}
\fnbox{dt17}{1982}{1534}{2105}{1562}{交易分析}
\fnbox{dt18}{1982}{1570}{2105}{1598}{商品分析}
\fnbox{dt19}{1982}{1607}{2105}{1634}{用户分析}
\fnbox{dt20}{1982}{1640}{2105}{1671}{埋点管理}
\draw[grp frame] (2168,1285) rectangle (2704,1407);
\node[sub title, text=archBright] (dtCalc) at (2251,1321) {数据计算};
\node[goal line] (dtCalcG) at (2321,1321) {目标：提供大数据的计算能力提升开发效率};
\fnbox{dt21}{2182}{1352}{2348}{1381}{数据统一接入}
\fnbox{dt22}{2362}{1352}{2528}{1381}{实时通知}
\fnbox{dt23}{2545}{1352}{2690}{1381}{结算}
\draw[grp frame] (2172,1413) rectangle (2706,1683);
\node[sub title, text=archBright] (dtSup) at (2251,1449) {数据支持};
\node[goal line] (dtSupG) at (2316,1449) {目标：提供数据支持运营、财务、销售以及产品研发};
\draw[grp frame] (2227,1480) rectangle (2613,1579);
\node[grp label] (dtOps) at (2424,1501) {内部经营数据};
\fnbox{dt24}{2239}{1517}{2405}{1542}{经营分析数据}
\fnbox{dt25}{2430}{1517}{2596}{1545}{销售转化数据}
\fnbox{dt26}{2239}{1548}{2405}{1573}{财务对账数据}
\draw[grp frame] (2227,1592) rectangle (2613,1677);
\node[grp label] (dtPrd) at (2424,1613) {产品类支持};
\fnbox{dt27}{2249}{1629}{2415}{1657}{用户管理数据}
\fnbox{dt28}{2430}{1629}{2596}{1657}{学习数据}
\end{scope}

\end{tikzpicture}
\end{document}
